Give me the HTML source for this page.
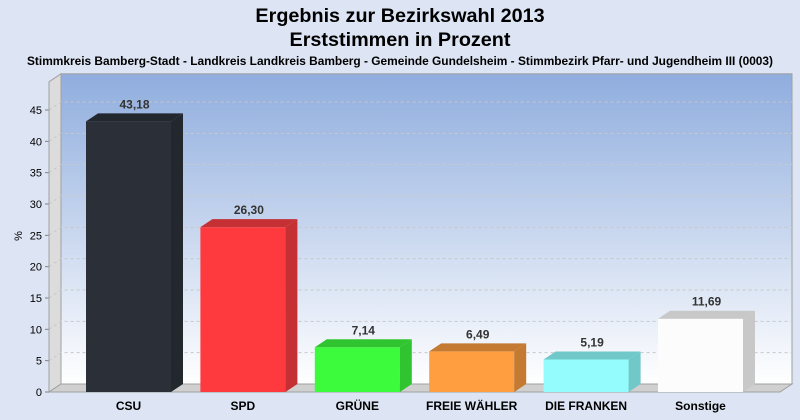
<!DOCTYPE html>
<html><head><meta charset="utf-8"><style>
body{margin:0;background:#dde4f4;}
svg{display:block;font-family:"Liberation Sans",sans-serif;}
</style></head><body>
<svg id="chart" width="800" height="420" viewBox="0 0 800 420">
<defs>
<linearGradient id="bg" x1="0" y1="0" x2="0" y2="1"><stop offset="0" stop-color="#8fadde"/><stop offset="1" stop-color="#ffffff"/></linearGradient>
</defs>
<rect width="800" height="420" fill="#dde4f4"/>
<text x="400" y="22" text-anchor="middle" font-size="19.8" font-weight="bold" fill="#000">Ergebnis zur Bezirkswahl 2013</text>
<text x="400" y="46" text-anchor="middle" font-size="19.8" font-weight="bold" fill="#000">Erststimmen in Prozent</text>
<text x="400" y="65" text-anchor="middle" font-size="11.9" font-weight="bold" fill="#000">Stimmkreis Bamberg-Stadt - Landkreis Landkreis Bamberg - Gemeinde Gundelsheim - Stimmbezirk Pfarr- und Jugendheim III (0003)</text>
<text transform="translate(22,236) rotate(-90)" text-anchor="middle" font-size="11" fill="#000">%</text>
<g id="plot"></g>
</svg>
<script>
const categories=["CSU","SPD","GRÜNE","FREIE WÄHLER","DIE FRANKEN","Sonstige"];
const values=[43.18,26.30,7.14,6.49,5.19,11.69];
const labels=["43,18","26,30","7,14","6,49","5,19","11,69"];
const ticks=[0,5,10,15,20,25,30,35,40,45];
const fronts=["#2b2f38","#ff3a3e","#3cfa3c","#ff9e40","#94fcfc","#fcfcfc"];
const sides=["#23272e","#c43034","#30c430","#c47a30","#70c8c8","#c8c8c8"];
const ns="http://www.w3.org/2000/svg";
const g=document.getElementById('plot');
const x0=49,y0=392,dx=12,dy=8,scale=(392-110)/45,right=780,maxV=49.5;
function yS(v){return y0-v*scale;}
function el(t,a){const e=document.createElementNS(ns,t);for(const k in a)e.setAttribute(k,a[k]);g.appendChild(e);return e;}
const topY=yS(maxV);
let e=el('rect',{x:x0+dx,y:topY-dy,width:right-x0,height:y0-topY,fill:'url(#bg)',stroke:'#a0a0a0'});

e=el('polygon',{points:`${x0},${y0} ${x0+dx},${y0-dy} ${x0+dx},${topY-dy} ${x0},${topY}`,fill:'#dcdcdc',stroke:'#a0a0a0'});

e=el('polygon',{points:`${x0},${y0} ${right},${y0} ${right+dx},${y0-dy} ${x0+dx},${y0-dy}`,fill:'#d0d0d0',stroke:'#a0a0a0'});

ticks.forEach(t=>{
  const y=yS(t);
  if(t>0){
    e=el('polyline',{points:`${x0},${y} ${x0+dx},${y-dy} ${right+dx},${y-dy}`,fill:'none',stroke:'#c8c8c8','stroke-dasharray':'3,3'});
    
  }
  e=el('line',{x1:x0-4,y1:y,x2:x0,y2:y,stroke:'#808080'});
  
  e=el('text',{x:x0-7,y:y+4,'text-anchor':'end','font-size':'11',fill:'#000'});e.textContent=t;
  
});
e=el('line',{x1:x0,y1:y0,x2:x0,y2:topY,stroke:'#a0a0a0'});

const slot=114.4,bw=85,startX=71.3;
categories.forEach((c,i)=>{
  const cx=startX+slot*(i+0.5);
  const xl=cx-bw/2,xr=cx+bw/2,yt=yS(values[i]);
  e=el('rect',{x:xl,y:yt,width:bw,height:y0-yt,fill:fronts[i]});
  
  e=el('polygon',{points:`${xr},${y0} ${xr+dx},${y0-dy} ${xr+dx},${yt-dy} ${xr},${yt}`,fill:sides[i]});
  
  e=el('polygon',{points:`${xl},${yt} ${xl+dx},${yt-dy} ${xr+dx},${yt-dy} ${xr},${yt}`,fill:sides[i]});
  
  e=el('text',{x:cx+dx/2,y:yt-dy-5,'text-anchor':'middle','font-size':'12','font-weight':'bold',fill:'#333'});e.textContent=labels[i];
  
  e=el('text',{x:cx,y:410,'text-anchor':'middle','font-size':'12','font-weight':'bold',fill:'#000'});e.textContent=c;
  
});
</script>
</body></html>
